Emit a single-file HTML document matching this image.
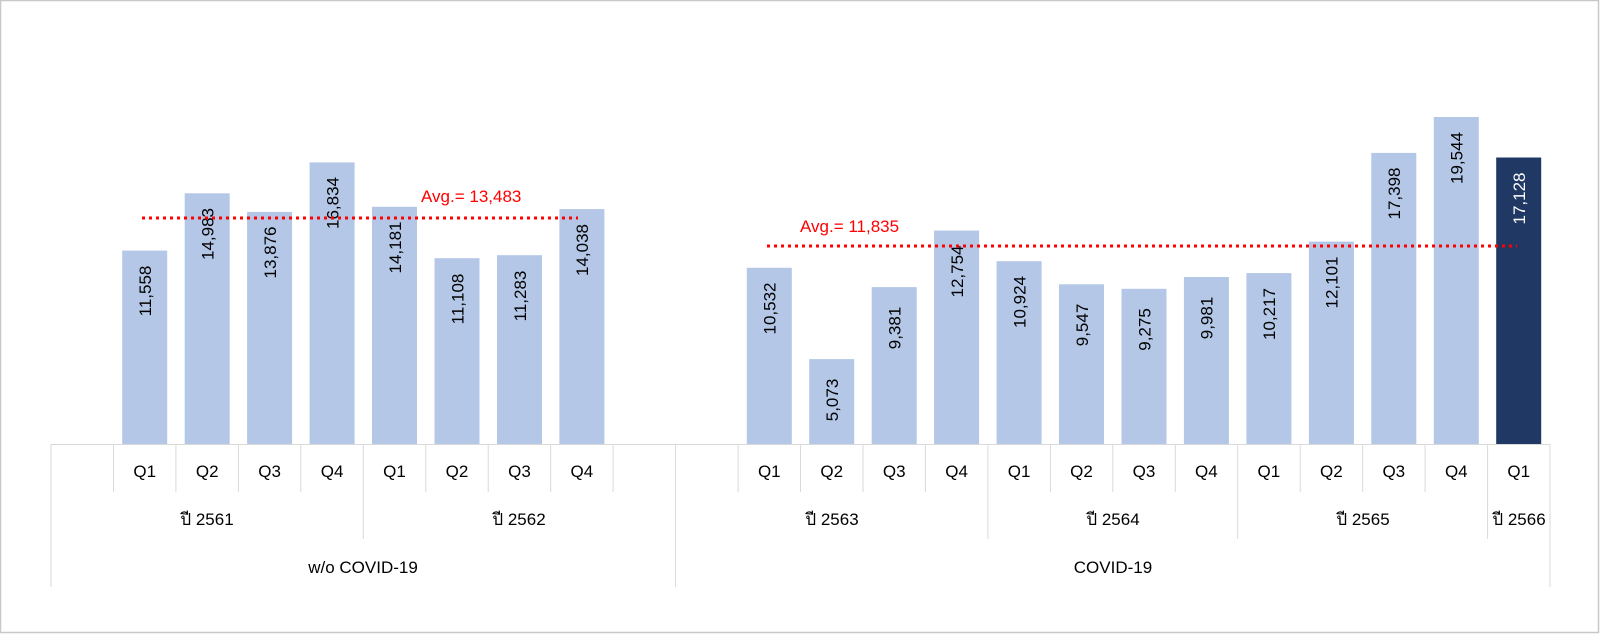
<!DOCTYPE html>
<html><head><meta charset="utf-8"><style>
html,body{margin:0;padding:0;background:#fff;}
svg{display:block;font-family:"Liberation Sans","Noto Sans CJK SC",sans-serif;}
</style></head><body>
<svg width="1600" height="634" viewBox="0 0 1600 634" xmlns="http://www.w3.org/2000/svg">
<rect x="0.5" y="0.5" width="1598" height="632" fill="#fff" stroke="#c8c8c8" stroke-width="1.5"/>
<g fill="#b4c7e7">
<rect x="122.2" y="250.6" width="45" height="193.4"/>
<rect x="184.7" y="193.3" width="45" height="250.7"/>
<rect x="247.1" y="211.9" width="45" height="232.1"/>
<rect x="309.6" y="162.4" width="45" height="281.6"/>
<rect x="372" y="206.8" width="45" height="237.2"/>
<rect x="434.5" y="258.2" width="45" height="185.8"/>
<rect x="497" y="255.2" width="45" height="188.8"/>
<rect x="559.4" y="209.1" width="45" height="234.9"/>
<rect x="746.8" y="267.8" width="45" height="176.2"/>
<rect x="809.2" y="359.1" width="45" height="84.9"/>
<rect x="871.7" y="287.1" width="45" height="156.9"/>
<rect x="934.1" y="230.6" width="45" height="213.4"/>
<rect x="996.6" y="261.2" width="45" height="182.8"/>
<rect x="1059" y="284.3" width="45" height="159.7"/>
<rect x="1121.5" y="288.8" width="45" height="155.2"/>
<rect x="1183.9" y="277" width="45" height="167"/>
<rect x="1246.4" y="273.1" width="45" height="170.9"/>
<rect x="1308.9" y="241.6" width="45" height="202.4"/>
<rect x="1371.3" y="152.9" width="45" height="291.1"/>
<rect x="1433.8" y="117" width="45" height="327"/>
</g>
<rect x="1496.2" y="157.5" width="45" height="286.5" fill="#203864"/>
<g font-size="17" fill="#000" text-anchor="middle">
<text transform="translate(151,291) rotate(-90)">11,558</text>
<text transform="translate(213.5,234) rotate(-90)">14,983</text>
<text transform="translate(276,252.5) rotate(-90)">13,876</text>
<text transform="translate(338.5,203) rotate(-90)">16,834</text>
<text transform="translate(401,247.5) rotate(-90)">14,181</text>
<text transform="translate(463.3,299) rotate(-90)">11,108</text>
<text transform="translate(525.8,296) rotate(-90)">11,283</text>
<text transform="translate(588.2,250) rotate(-90)">14,038</text>
<text transform="translate(775.6,308.5) rotate(-90)">10,532</text>
<text transform="translate(838,400) rotate(-90)">5,073</text>
<text transform="translate(900.5,328) rotate(-90)">9,381</text>
<text transform="translate(963,271.5) rotate(-90)">12,754</text>
<text transform="translate(1025.4,302) rotate(-90)">10,924</text>
<text transform="translate(1087.8,325) rotate(-90)">9,547</text>
<text transform="translate(1150.3,329.5) rotate(-90)">9,275</text>
<text transform="translate(1212.7,318) rotate(-90)">9,981</text>
<text transform="translate(1275.2,314) rotate(-90)">10,217</text>
<text transform="translate(1337.7,282.5) rotate(-90)">12,101</text>
<text transform="translate(1400.1,193.5) rotate(-90)">17,398</text>
<text transform="translate(1462.6,158) rotate(-90)">19,544</text>
<text transform="translate(1525,198.5) rotate(-90)" fill="#fff">17,128</text>
</g>
<line x1="142" y1="218" x2="578" y2="218" stroke="#ff0000" stroke-width="3" stroke-dasharray="3,4"/>
<line x1="767" y1="246" x2="1517" y2="246" stroke="#ff0000" stroke-width="3" stroke-dasharray="3,4"/>
<text x="421" y="202" font-size="17" fill="#ff0000">Avg.= 13,483</text>
<text x="800" y="232" font-size="17" fill="#ff0000">Avg.= 11,835</text>
<g stroke="#d9d9d9" stroke-width="1">
<line x1="51" y1="444.5" x2="1550" y2="444.5"/>
<line x1="113.5" y1="444" x2="113.5" y2="492"/><line x1="175.9" y1="444" x2="175.9" y2="492"/>
<line x1="238.4" y1="444" x2="238.4" y2="492"/><line x1="300.8" y1="444" x2="300.8" y2="492"/>
<line x1="425.8" y1="444" x2="425.8" y2="492"/><line x1="488.2" y1="444" x2="488.2" y2="492"/>
<line x1="550.7" y1="444" x2="550.7" y2="492"/><line x1="613.1" y1="444" x2="613.1" y2="492"/>
<line x1="738.1" y1="444" x2="738.1" y2="492"/><line x1="800.5" y1="444" x2="800.5" y2="492"/>
<line x1="863" y1="444" x2="863" y2="492"/><line x1="925.4" y1="444" x2="925.4" y2="492"/>
<line x1="1050.4" y1="444" x2="1050.4" y2="492"/><line x1="1112.8" y1="444" x2="1112.8" y2="492"/>
<line x1="1175.3" y1="444" x2="1175.3" y2="492"/><line x1="1300.2" y1="444" x2="1300.2" y2="492"/>
<line x1="1362.7" y1="444" x2="1362.7" y2="492"/><line x1="1425.1" y1="444" x2="1425.1" y2="492"/>
<line x1="363.3" y1="444" x2="363.3" y2="539"/><line x1="987.9" y1="444" x2="987.9" y2="539"/>
<line x1="1237.7" y1="444" x2="1237.7" y2="539"/><line x1="1487.6" y1="444" x2="1487.6" y2="539"/>
<line x1="51" y1="444" x2="51" y2="587"/><line x1="675.6" y1="444" x2="675.6" y2="587"/>
<line x1="1550" y1="444" x2="1550" y2="587"/>
</g>
<g font-size="17" fill="#000" text-anchor="middle">
<text x="144.7" y="477">Q1</text><text x="207.2" y="477">Q2</text><text x="269.6" y="477">Q3</text><text x="332.1" y="477">Q4</text>
<text x="394.5" y="477">Q1</text><text x="457" y="477">Q2</text><text x="519.5" y="477">Q3</text><text x="581.9" y="477">Q4</text>
<text x="769.3" y="477">Q1</text><text x="831.7" y="477">Q2</text><text x="894.2" y="477">Q3</text><text x="956.6" y="477">Q4</text>
<text x="1019.1" y="477">Q1</text><text x="1081.5" y="477">Q2</text><text x="1144" y="477">Q3</text><text x="1206.4" y="477">Q4</text>
<text x="1268.9" y="477">Q1</text><text x="1331.4" y="477">Q2</text><text x="1393.8" y="477">Q3</text><text x="1456.3" y="477">Q4</text>
<text x="1518.7" y="477">Q1</text>
<text x="207" y="525">ปี 2561</text>
<text x="519" y="525">ปี 2562</text>
<text x="832" y="525">ปี 2563</text>
<text x="1113" y="525">ปี 2564</text>
<text x="1363" y="525">ปี 2565</text>
<text x="1519" y="525">ปี 2566</text>
<text x="363" y="573">w/o COVID-19</text>
<text x="1113" y="573">COVID-19</text>
</g>
</svg>
</body></html>
